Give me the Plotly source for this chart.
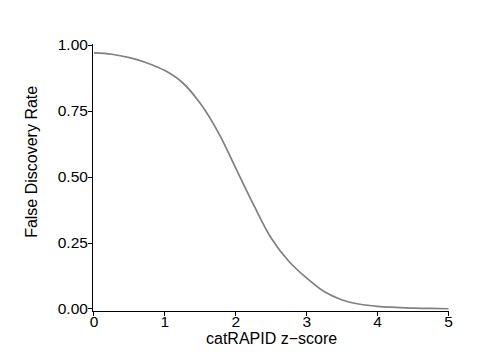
import plotly.graph_objects as go

z_score = [0.0, 0.25, 0.5, 0.75, 1.0, 1.25, 1.5, 1.75, 2.0, 2.25, 2.5,
           2.75, 3.0, 3.25, 3.5, 3.75, 4.0, 4.25, 4.5, 4.75, 5.0]
fdr = [0.970, 0.965, 0.952, 0.932, 0.903, 0.857, 0.778, 0.670, 0.533, 0.395, 0.268,
       0.180, 0.117, 0.065, 0.034, 0.018, 0.010, 0.006, 0.003, 0.002, 0.001]

x_ticks = [0, 1, 2, 3, 4, 5]
y_ticks = [0.0, 0.25, 0.5, 0.75, 1.0]
y_tick_labels = ["0.00", "0.25", "0.50", "0.75", "1.00"]

fig = go.Figure()
fig.add_trace(go.Scatter(x=z_score, y=fdr, mode="lines",
                         line=dict(color="#808080", width=1.7, shape="spline", smoothing=1.0),
                         hoverinfo="skip", showlegend=False))

family = "Liberation Sans, Arial, Helvetica, sans-serif"
tick_font = dict(family=family, size=15.5, color="black")
title_font = dict(family=family, size=16, color="black")
fig.update_layout(
    width=470, height=356,
    margin=dict(l=85, r=28.5, t=36, b=53),
    paper_bgcolor="white", plot_bgcolor="white",
    font=tick_font,
    xaxis=dict(range=[-0.014, 5.006], tickvals=x_ticks, showgrid=False, zeroline=False,
               showline=True, linecolor="black", linewidth=1, automargin=False,
               ticks="outside", ticklen=4, tickcolor="black", tickwidth=1,
               ticklabelstandoff=-8),
    yaxis=dict(range=[-0.0076, 1.0038], tickvals=y_ticks, ticktext=y_tick_labels,
               showgrid=False, zeroline=False, automargin=False,
               showline=True, linecolor="black", linewidth=1,
               ticks="outside", ticklen=4, tickcolor="black", tickwidth=1,
               ticklabelstandoff=-3),
    annotations=[
        dict(text="catRAPID z\u2212score", xref="paper", yref="paper", x=0.502, y=-0.103,
             xanchor="center", yanchor="middle", showarrow=False, font=title_font),
        dict(text="False Discovery Rate", xref="paper", yref="paper", x=-0.1725, y=0.557,
             xanchor="center", yanchor="middle", textangle=-90, showarrow=False, font=title_font),
    ],
)

fig.write_html("out.html")
